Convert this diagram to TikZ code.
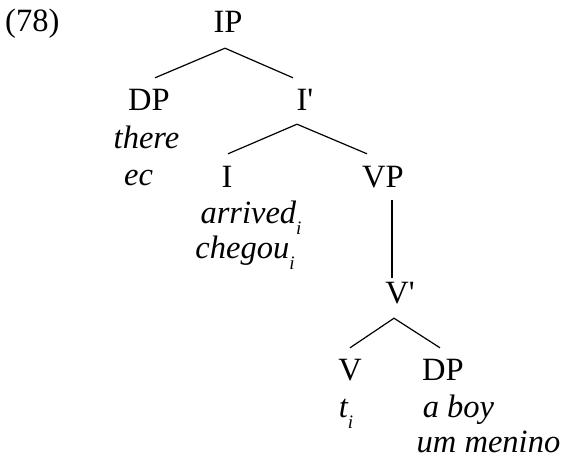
\documentclass[tikz,border=0pt]{standalone}
\usepackage{fontspec}
\setmainfont{Liberation Serif}
\newcommand\subidx{\raisebox{-11pt}{\fontsize{19}{19}\selectfont\itshape i}}
\begin{document}
\begin{tikzpicture}[x=1pt,y=-1pt,
  cat/.style={font=\fontsize{32.5}{38}\selectfont\upshape, inner sep=0pt, text height=21pt, text depth=0pt, anchor=base},
  wd/.style={font=\fontsize{32.5}{38}\selectfont\itshape, inner sep=0pt, anchor=base},
  br/.style={line width=1.2pt}]
\useasboundingbox (0,0) rectangle (564,459);
\node[cat, anchor=base west] (num) at (5,31) {(78)};
\node[cat] (IP) at (228,32) {IP};
\node[cat] (DPa) at (149,110) {DP};
\node[cat] (Ib) at (305,110) {I\textquotesingle};
\node[wd] (there) at (146.5,148) {there};
\node[wd] (ec) at (138.5,185) {ec};
\node[cat] (I) at (227,187) {I};
\node[cat] (VP) at (383,187) {VP};
\node[wd] (arr) at (251,223) {arrived\subidx};
\node[wd] (che) at (245,258) {chegou\subidx};
\node[cat] (Vb) at (400,303) {V\textquotesingle};
\node[cat] (V) at (350,380) {V};
\node[cat] (DPb) at (443,380) {DP};
\node[wd] (t) at (346,417) {t\subidx};
\node[wd] (boy) at (458.5,417) {a boy};
\node[wd] (men) at (488.5,452) {um menino};
\draw[br] ([xshift=6pt,yshift=11pt]DPa.north) -- ([xshift=-3pt,yshift=-16pt]IP.south) -- ([xshift=-12pt,yshift=11pt]Ib.north);
\draw[br] ([xshift=1pt,yshift=12pt]I.north) -- ([xshift=-8pt,yshift=-14pt]Ib.south) -- ([xshift=-16pt,yshift=12pt]VP.north);
\draw[br] ([xshift=9pt,yshift=-13pt]VP.south) -- ([xshift=-8pt,yshift=4pt]Vb.north);
\draw[br] ([yshift=11pt]V.north) -- ([xshift=-6pt,yshift=-15pt]Vb.south) -- ([xshift=-3pt,yshift=11pt]DPb.north);
\end{tikzpicture}
\end{document}
